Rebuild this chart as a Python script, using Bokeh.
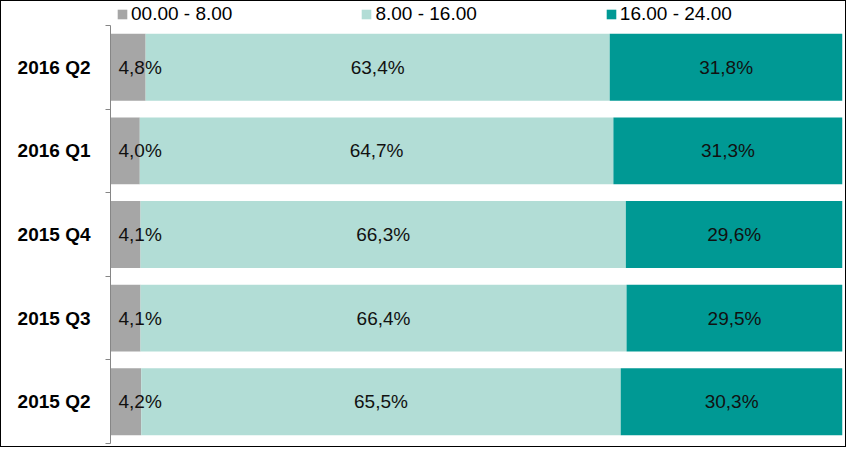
from bokeh.plotting import figure
from bokeh.models import ColumnDataSource, FixedTicker, Legend, LegendItem, LabelSet, Range1d
from bokeh.core.properties import value
from bokeh.embed import file_html
from bokeh.resources import INLINE

# Data (bottom to top)
categories = ["2015 Q2", "2015 Q3", "2015 Q4", "2016 Q1", "2016 Q2"]
night = [4.2, 4.1, 4.1, 4.0, 4.8]      # 00.00 - 8.00
day = [65.5, 66.4, 66.3, 64.7, 63.4]    # 8.00 - 16.00
evening = [30.3, 29.5, 29.6, 31.3, 31.8]  # 16.00 - 24.00
series_names = ["00.00 - 8.00", "8.00 - 16.00", "16.00 - 24.00"]
colors = ["#a6a6a6", "#b2ddd6", "#009994"]

FONT = "Liberation Sans"

ypos = [i + 0.5 for i in range(len(categories))]
s1 = [a + b for a, b in zip(night, day)]
s2 = [a + b for a, b in zip(s1, evening)]

def fmt(v):
    return ("%.1f%%" % v).replace(".", ",")

src = ColumnDataSource(dict(
    y=ypos,
    l0=[0.0] * len(night), r0=night,
    l1=night, r1=s1,
    l2=s1, r2=s2,
    m1=[(a + b) / 2 for a, b in zip(night, s1)],
    m2=[(a + b) / 2 for a, b in zip(s1, s2)],
    t0=[fmt(v) for v in night],
    t1=[fmt(v) for v in day],
    t2=[fmt(v) for v in evening],
))

# frame spans the full height; extra room on top of the category band holds the legend
FRAME_H = 442
BAND_H = 418
n = len(categories)
p = figure(width=846, height=447, output_backend="svg", toolbar_location=None,
           x_range=Range1d(0, 100), y_range=Range1d(0, n * FRAME_H / BAND_H),
           min_border_left=109, min_border_right=5, min_border_top=0, min_border_bottom=5)
p.styles = {"border": "1px solid black"}
p.outline_line_color = None
p.background_fill_color = "white"
p.border_fill_color = "white"
p.xgrid.visible = False
p.ygrid.visible = False
p.xaxis.visible = False

r0 = p.hbar(y="y", left="l0", right="r0", height=0.8, source=src, fill_color=colors[0], line_color=None)
r1 = p.hbar(y="y", left="l1", right="r1", height=0.8, source=src, fill_color=colors[1], line_color=None)
r2 = p.hbar(y="y", left="l2", right="r2", height=0.8, source=src, fill_color=colors[2], line_color=None)

yax = p.yaxis[0]
yax.bounds = (0, n)
yax.ticker = FixedTicker(ticks=ypos, minor_ticks=list(range(n + 1)))
yax.major_label_overrides = {y: c for y, c in zip(ypos, categories)}
yax.major_tick_line_color = None
yax.major_tick_out = 0
yax.major_tick_in = 0
yax.minor_tick_line_color = "#868686"
yax.minor_tick_out = 5
yax.minor_tick_in = 0
yax.axis_line_color = "#868686"
yax.major_label_text_font = FONT
yax.major_label_text_font_style = "bold"
yax.major_label_text_font_size = "19px"
yax.major_label_text_color = "black"
yax.major_label_standoff = 15

common = dict(source=src, y="y", text_font=value(FONT), text_font_size=value("19px"),
              text_color="#111111", text_baseline="middle")
p.add_layout(LabelSet(x="l0", text="t0", text_align="left", x_offset=8, **common))
p.add_layout(LabelSet(x="m1", text="t1", text_align="center", **common))
p.add_layout(LabelSet(x="m2", text="t2", text_align="center", **common))

legend = Legend(items=[LegendItem(label=series_names[0], renderers=[r0]),
                       LegendItem(label=series_names[1], renderers=[r1]),
                       LegendItem(label=series_names[2], renderers=[r2])],
                location=(6, 418), orientation="horizontal",
                padding=0, margin=0, spacing=128, label_standoff=3,
                glyph_width=12, glyph_height=12,
                label_text_font=FONT, label_text_font_size="19px", label_text_color="black",
                border_line_color=None, background_fill_alpha=0)
p.add_layout(legend, "center")

open("out.html", "w").write(file_html(p, INLINE))
